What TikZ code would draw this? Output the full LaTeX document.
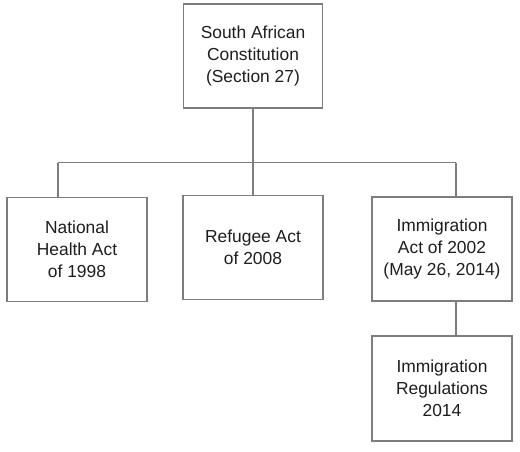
\documentclass[tikz,border=0pt]{standalone}
\usepackage{fontspec}
\setmainfont{Liberation Sans}
\definecolor{boxline}{RGB}{125,125,125}
\definecolor{txt}{RGB}{30,30,30}
\begin{document}
\begin{tikzpicture}[x=1pt,y=-1pt,
  box/.style={draw=boxline,line width=1.4pt,fill=white,minimum width=140pt,minimum height=104pt,
    inner sep=0pt,align=center,text=txt,font=\fontsize{17.4}{22}\selectfont},
  conn/.style={draw=boxline,line width=1.1pt}]
\useasboundingbox (0,0) rectangle (520,451);
\node[box,minimum width=139pt] (top) at (253,56) {South African\\Constitution\\(Section 27)};
\node[box] (left) at (77,249.5) {National\\Health Act\\of 1998};
\node[box] (mid) at (253,247.5) {Refugee Act\\of 2008};
\node[box] (right) at (442,249) {Immigration\\Act of 2002\\(May 26, 2014)};
\node[box,minimum height=105pt] (bottom) at (442,388.5) {Immigration\\Regulations\\2014};
\coordinate (bL) at (58,162.5);
\coordinate (bR) at (456,162.5);
\draw[conn] (bL) -- (bR);
\draw[conn] (bL) -- (bL |- left.north);
\draw[conn] (top.south) -- (mid.north);
\draw[conn] (bR) -- (bR |- right.north);
\draw[conn] (bR |- right.south) -- (bR |- bottom.north);
\end{tikzpicture}
\end{document}
